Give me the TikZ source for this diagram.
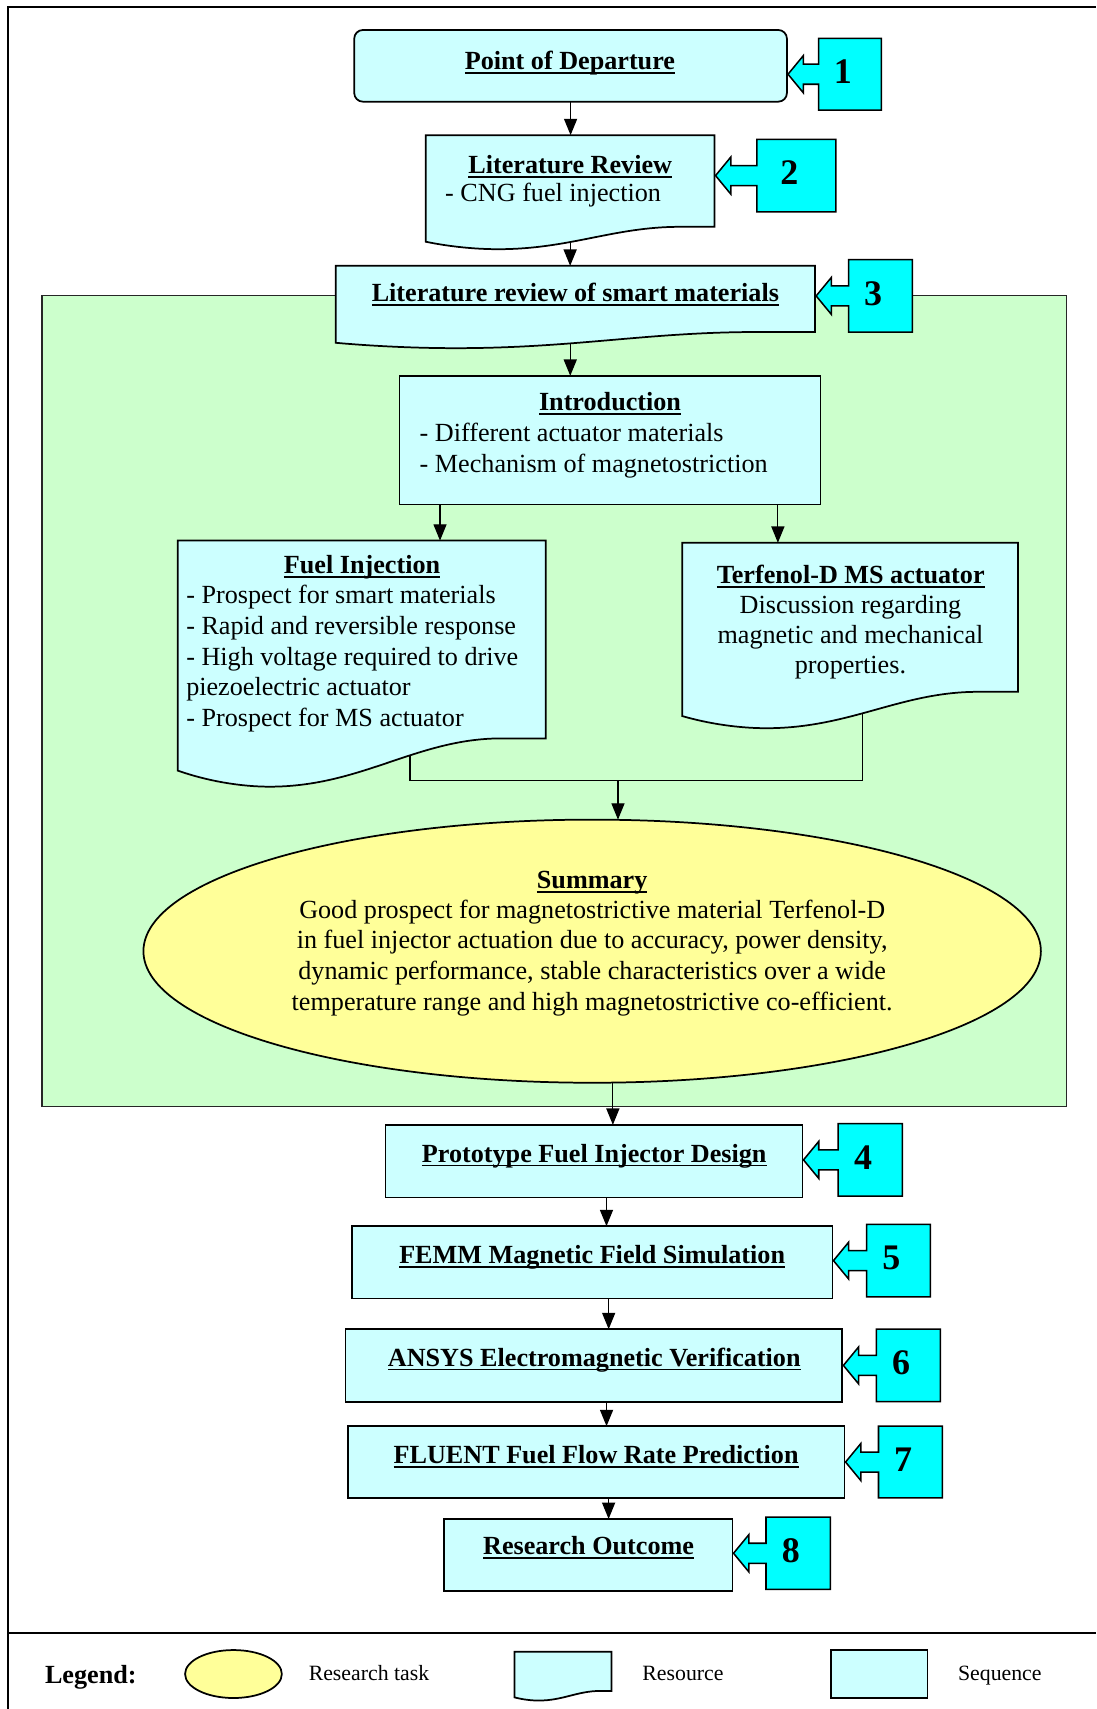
\documentclass[tikz,border=0pt]{standalone}
\usepackage{fontspec}
\setmainfont{Liberation Serif}
\usetikzlibrary{arrows.meta,shapes.geometric,calc,fit}
\pgfdeclarelayer{panel}
\pgfdeclarelayer{links}
\pgfsetlayers{panel,links,main}

\definecolor{boxcyan}{HTML}{CCFFFF}
\definecolor{tagcyan}{HTML}{00FFFF}
\definecolor{panelgreen}{HTML}{CCFFCC}
\definecolor{taskyellow}{HTML}{FFFF99}

% bold heading with a heavy underline
\newcommand\undl[1]{\setbox0\hbox{\bfseries #1}\rlap{\rule[-1.9pt]{\wd0}{0.75pt}}\box0}

% document outline (wavy lower edge) around an invisible rectangle node
\newcommand\docoutline[1]{%
  \filldraw[docline] let \p1=(#1.north west), \p2=(#1.south east),
      \n1={\x2-\x1}, \n2={\y1-\y2} in
    (\x1,\y1) -- (\x2,\y1) -- (\x2,{\y2+0.14*\n2})
    -- ({\x1+0.88*\n1},{\y2+0.14*\n2})
    .. controls ({\x1+0.65*\n1},{\y2+0.14*\n2}) and ({\x1+0.5*\n1},{\y2-0.07*\n2})
    .. ({\x1+0.25*\n1},{\y2-0.07*\n2})
    .. controls ({\x1+0.17*\n1},{\y2-0.07*\n2}) and ({\x1+0.08*\n1},{\y2-0.045*\n2})
    .. (\x1,\y2) -- cycle;}

% numbered tag: square with a block arrow pointing left at a box
\newcommand\tagshape[2]{%
  \filldraw[tagline] let \p1=(#1.north west), \p2=(#1.south east), \p3=(#2.east),
      \n1={0.5*(\y1+\y2)} in
    (\x1,\y1) -- (\x2,\y1) -- (\x2,\y2) -- (\x1,\y2)
    -- (\x1,{\n1-4.6pt}) -- ({\x3+7.5pt},{\n1-4.6pt}) -- ({\x3+7.5pt},{\n1-8.5pt})
    -- ({\x3+0.5pt},{\n1}) -- ({\x3+7.5pt},{\n1+8.5pt}) -- ({\x3+7.5pt},{\n1+4.6pt})
    -- (\x1,{\n1+4.6pt}) -- cycle;}

\begin{document}
\begin{tikzpicture}[x=0.5pt,y=-0.5pt,
  every node/.style={inner sep=0pt, outer sep=0pt},
  seqbox/.style={draw=black, line width=0.8pt, fill=boxcyan},
  docbox/.style={inner sep=0pt},
  docline/.style={draw=black, line width=0.8pt, fill=boxcyan},
  tagbox/.style={inner sep=0pt},
  tagline/.style={draw=black, line width=0.7pt, fill=tagcyan, line join=miter},
  tagnum/.style={font=\fontsize{16.5}{16.5}\selectfont\bfseries, yshift=1.2pt, xshift=-3.3pt},
  taskshape/.style={ellipse, draw=black, line width=0.8pt, fill=taskyellow},
  flow/.style={draw=black, line width=0.55pt, -{Triangle[length=7.5pt,width=6pt]}},
  conn/.style={draw=black, line width=0.55pt},
  head/.style={anchor=base, font=\fontsize{12}{14}\selectfont},
  body/.style={anchor=base west, font=\fontsize{12}{14}\selectfont},
  bodyc/.style={anchor=base, font=\fontsize{12}{14}\selectfont},
  keytext/.style={anchor=base west, font=\fontsize{10}{12}\selectfont},
  frame/.style={draw=black, line width=0.9pt}
]
\useasboundingbox (0,0) rectangle (1006,1568);

% page frame and legend separator
\draw[frame] (7.7,1568) -- (7.7,6.7) -- (1006,6.7);
\draw[frame] (7.7,1498.6) -- (1006,1498.6);

% literature-review panel
\begin{pgfonlayer}{panel}
  \node[draw=black!85, line width=0.7pt, fill=panelgreen,
        fit={(38.5,271) (978.5,1015)}] (panel) {};
\end{pgfonlayer}

% main shapes
\node[seqbox, rounded corners=4pt, fit={(325,27.5) (722,93.3)}] (dep) {};
\node[docbox, fit={(390.7,124) (655.5,221.8)}] (lit) {};
\node[docbox, fit={(308,243.9) (747.8,314.5)}] (smart) {};
\node[seqbox, fit={(366.5,344.8) (752.9,462.9)}] (intro) {};
\node[docbox, fit={(163,496) (500.7,707)}] (fuel) {};
\node[docbox, fit={(626,498) (934,657)}] (tmd) {};
\node[taskshape, minimum width=411.7pt, minimum height=120.7pt] (sum) at (543.3,872.7) {};
\node[seqbox, fit={(353.7,1032) (736.2,1098.7)}] (proto) {};
\node[seqbox, fit={(322.8,1125) (763.7,1191.4)}] (femm) {};
\node[seqbox, fit={(317,1219.5) (772.8,1286)}] (ansys) {};
\node[seqbox, fit={(319,1308.5) (774.8,1374.3)}] (fluent) {};
\node[seqbox, fit={(407.5,1393.6) (672,1460)}] (outcome) {};

\docoutline{lit}
\docoutline{smart}
\docoutline{fuel}
\docoutline{tmd}

% numbered tags
\node[tagbox, fit={(751.1,35.2) (808.6,101)}] (t1) {};
\node[tagbox, fit={(694.5,127.9) (767,194.3)}] (t2) {};
\node[tagbox, fit={(778.5,238.3) (837,304.7)}] (t3) {};
\node[tagbox, fit={(769,1031) (828,1097.4)}] (t4) {};
\node[tagbox, fit={(795.2,1123.4) (853.6,1189.8)}] (t5) {};
\node[tagbox, fit={(804,1219.5) (862.7,1286)}] (t6) {};
\node[tagbox, fit={(806,1308.5) (864.6,1374.3)}] (t7) {};
\node[tagbox, fit={(702.8,1392) (761.8,1458.2)}] (t8) {};
\tagshape{t1}{dep}
\tagshape{t2}{lit}
\tagshape{t3}{smart}
\tagshape{t4}{proto}
\tagshape{t5}{femm}
\tagshape{t6}{ansys}
\tagshape{t7}{fluent}
\tagshape{t8}{outcome}
\node[tagnum] (n1) at (t1.center) {1};
\node[tagnum] (n2) at (t2.center) {2};
\node[tagnum] (n3) at (t3.center) {3};
\node[tagnum] (n4) at (t4.center) {4};
\node[tagnum] (n5) at (t5.center) {5};
\node[tagnum] (n6) at (t6.center) {6};
\node[tagnum] (n7) at (t7.center) {7};
\node[tagnum] (n8) at (t8.center) {8};

% connectors
\begin{pgfonlayer}{links}
  \draw[flow] (dep.south) -- (dep.south |- lit.north);
  \draw[flow] (lit.south) -- (lit.south |- smart.north);
  \draw[flow] ([xshift=-2.35pt]smart.south) -- ([xshift=-2.35pt]smart.south |- intro.north);
  \draw[flow] ([xshift=-78pt]intro.south) -- ([xshift=-78pt]intro.south |- fuel.north);
  \draw[flow] ([xshift=77pt]intro.south) -- ([xshift=77pt]intro.south |- tmd.north);
  \coordinate (fuelout) at ($(fuel.south west)!0.631!(fuel.south east)+(0,-30)$);
  \coordinate (tmdout) at ($(tmd.south west)!0.536!(tmd.south east)+(0,-20)$);
  \coordinate (merge) at (567,716);
  \draw[conn] (fuelout) -- (fuelout |- merge) -- (tmdout |- merge) -- (tmdout);
  \draw[flow] (merge) -- (merge |- sum.north);
  \draw[flow] ([xshift=9.5pt]sum.south) -- ([xshift=9.5pt]sum.south |- proto.north);
  \draw[flow] ([xshift=5.75pt]proto.south) -- ([xshift=5.75pt]proto.south |- femm.north);
  \draw[flow] ([xshift=7.6pt]femm.south) -- ([xshift=7.6pt]femm.south |- ansys.north);
  \draw[flow] ([xshift=5.8pt]ansys.south) -- ([xshift=5.8pt]ansys.south |- fluent.north);
  \draw[flow] ([xshift=5.75pt]fluent.south) -- ([xshift=5.75pt]fluent.south |- outcome.north);
\end{pgfonlayer}

% texts
\node[head] (dep-t) at (522.9,64.2) {\undl{Point of Departure}};
\node[head] (lit-t) at (523.2,159.5) {\undl{Literature Review}};
\node[body] (lit-1) at (408.5,184.5) {- CNG fuel injection};
\node[head] (smart-t) at (527.9,277) {\undl{Literature review of smart materials}};
\node[head] (intro-t) at (559.7,377) {\undl{Introduction}};
\node[body] (intro-1) at (385.1,404.8) {- Different actuator materials};
\node[body] (intro-2) at (385.1,433.5) {- Mechanism of magnetostriction};
\node[head] (fuel-t) at (332.2,526.2) {\undl{Fuel Injection}};
\node[body] (fuel-1) at (170.9,553.5) {- Prospect for smart materials};
\node[body] (fuel-2) at (170.9,581.9) {- Rapid and reversible response};
\node[body] (fuel-3) at (170.9,610.4) {- High voltage required to drive};
\node[body] (fuel-4) at (170.9,637.9) {piezoelectric actuator};
\node[body] (fuel-5) at (170.9,666.4) {- Prospect for MS actuator};
\node[head] (tmd-t) at (780.5,535.4) {\undl{Terfenol-D MS actuator}};
\node[bodyc] (tmd-1) at (780.3,563) {Discussion regarding};
\node[bodyc] (tmd-2) at (780.3,590.5) {magnetic and mechanical};
\node[bodyc] (tmd-3) at (780.3,618) {properties.};
\node[head] (sum-t) at (543.3,815.4) {\undl{Summary}};
\node[bodyc] (sum-1) at (543.3,842.9) {Good prospect for magnetostrictive material Terfenol-D};
\node[bodyc] (sum-2) at (543.3,870.4) {in fuel injector actuation due to accuracy, power density,};
\node[bodyc] (sum-3) at (543.3,898.9) {dynamic performance, stable characteristics over a wide};
\node[bodyc] (sum-4) at (543.3,927) {temperature range and high magnetostrictive co-efficient.};
\node[head] (proto-t) at (545.2,1066.2) {\undl{Prototype Fuel Injector Design}};
\node[head] (femm-t) at (543.3,1159.5) {\undl{FEMM Magnetic Field Simulation}};
\node[head] (ansys-t) at (545.2,1253.5) {\undl{ANSYS Electromagnetic Verification}};
\node[head] (fluent-t) at (546.9,1343.1) {\undl{FLUENT Fuel Flow Rate Prediction}};
\node[head] (outcome-t) at (540,1426.4) {\undl{Research Outcome}};

% legend
\node[body, font=\fontsize{12}{14}\selectfont\bfseries] (key) at (41.3,1545) {Legend:};
\node[taskshape, minimum width=44.4pt, minimum height=22pt] (key-task) at (214.2,1535.9) {};
\node[keytext] (key-task-t) at (283.3,1541.4) {Research task};
\node[docbox, fit={(472,1515.4) (561,1557.3)}] (key-res) {};
\docoutline{key-res}
\node[keytext] (key-res-t) at (589.4,1542) {Resource};
\node[seqbox, fit={(762.7,1513.7) (851,1557.9)}] (key-seq) {};
\node[keytext] (key-seq-t) at (879,1542) {Sequence};
\end{tikzpicture}
\end{document}
